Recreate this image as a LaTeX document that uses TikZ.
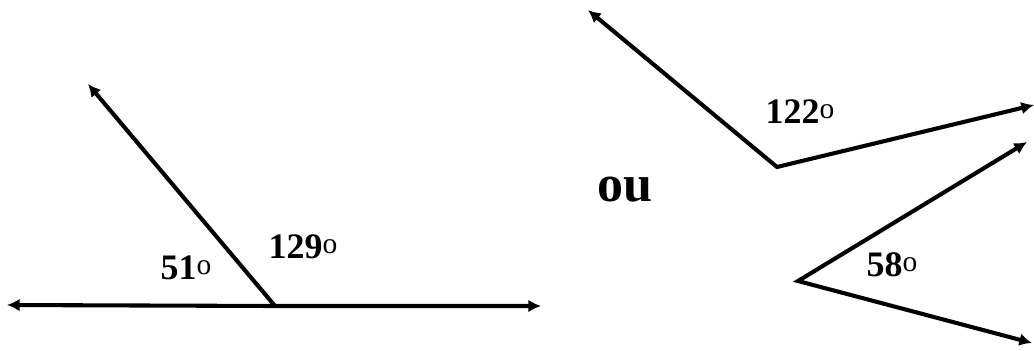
\documentclass[tikz,border=0pt]{standalone}
\usepackage{fontspec}
\setmainfont{Liberation Serif}
\usetikzlibrary{arrows.meta}

\newcommand{\dgr}{{\mdseries\fontsize{21}{21}\selectfont\raisebox{3.5pt}{o}}}

\begin{document}
\begin{tikzpicture}[
    x=0.025cm, y=-0.025cm,
    ray/.style={line width=2.9pt, -{Latex[length=9pt,width=9pt]}},
    line/.style={line width=2.9pt, {Latex[length=9pt,width=9pt]}-{Latex[length=9pt,width=9pt]}},
    angtext/.style={font=\fontsize{25.5}{30}\selectfont\bfseries, inner sep=0pt},
    wordtext/.style={font=\fontsize{37}{40}\selectfont\bfseries, inner sep=0pt}
  ]
    \useasboundingbox (0,0) rectangle (1034,350);
    % first figure: supplementary angles on a line
    \coordinate (v1) at (275,306);
    \coordinate (l1) at (7,305);
    \coordinate (r1) at (541,306);
    \coordinate (t1) at (88,84);
    \draw[line] (l1) -- (v1) -- (r1);
    \draw[ray] (v1) -- (t1);
    \node[angtext] (a51) at (186,268) {51\dgr};
    \node[angtext] (a129) at (303,247) {129\dgr};
    \node[wordtext] (ou) at (625,190) {ou};
    % second figure: obtuse angle
    \coordinate (v2) at (777,167);
    \coordinate (t2) at (588,10);
    \coordinate (r2) at (1034,105);
    \draw[line] (t2) -- (v2) -- (r2);
    \node[angtext] (a122) at (800,112) {122\dgr};
    % third figure: acute angle
    \coordinate (v3) at (798,281);
    \coordinate (t3) at (1027,142);
    \coordinate (r3) at (1032,343);
    \draw[line] (t3) -- (v3) -- (r3);
    \node[angtext] (a58) at (892,265) {58\dgr};
\end{tikzpicture}
\end{document}
